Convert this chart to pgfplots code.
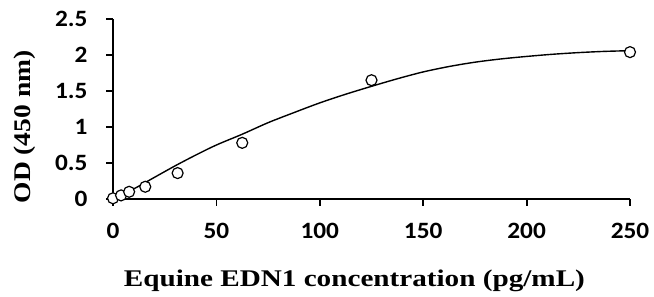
\documentclass[border=0pt]{standalone}
\usepackage{fontspec}
\setmainfont{Liberation Serif}
\newfontfamily\tickfont[FakeStretch=1.08]{Carlito Bold}
\newfontfamily\xlabelfont[FakeStretch=1.22]{Liberation Serif Bold}
\newfontfamily\ylabelfont[FakeStretch=1.15]{Liberation Serif Bold}
\usepackage{pgfplots}
\pgfplotsset{compat=1.18}
\begin{document}
\begin{tikzpicture}
\useasboundingbox (0,0) rectangle (654bp,297bp);
\begin{axis}[
  at={(113bp,98bp)}, anchor=origin,
  scale only axis, width=517bp, height=180bp,
  xmin=0, xmax=250, ymin=0, ymax=2.5,
  axis lines*=left,
  axis line style={line width=1.8bp},
  tick style={line width=1.8bp, black},
  tick align=outside, major tick length=7bp,
  xtick={0,50,100,150,200,250},
  ytick={0,0.5,1,1.5,2,2.5},
  /pgf/number format/assume math mode=true,
  /pgf/number format/.cd, fixed, precision=1, /pgfplots/.cd,
  tick label style={font=\tickfont\fontsize{23.5}{26}\selectfont},
  xticklabel style={yshift=-14bp},
  yticklabel style={xshift=-15bp},
  xlabel={Equine EDN1 concentration (pg/mL)},
  ylabel={OD (450 nm)},
  xlabel style={font=\xlabelfont\fontsize{24}{28}\selectfont, at={(axis description cs:0.467,-0.485)}, anchor=base, inner sep=0pt},
  ylabel style={font=\ylabelfont\fontsize{24}{28}\selectfont, at={(axis description cs:-0.16,0.40)}, anchor=base, rotate=0, inner sep=0pt},
  clip=false,
]
\addplot[black, line width=1.4bp, smooth, tension=0.5] coordinates {
 (0,0.0) (10,0.14) (20,0.30) (30,0.46) (40,0.61) (50,0.75) (62.5,0.90)
 (75,1.06) (87.5,1.20) (100,1.335) (112.5,1.455) (125,1.565) (137.5,1.67)
 (150,1.765) (162.5,1.84) (175,1.90) (187.5,1.945) (200,1.98) (212.5,2.01)
 (225,2.033) (237.5,2.05) (250,2.06)
};
\addplot[only marks, mark=*, mark size=5.5bp, mark options={fill=white, draw=black, line width=1.2bp}] coordinates {
 (0,0.01) (3.9,0.05) (7.8,0.10) (15.6,0.17) (31.25,0.36) (62.5,0.78) (125,1.65) (250,2.04)
};
\end{axis}
\end{tikzpicture}
\end{document}
